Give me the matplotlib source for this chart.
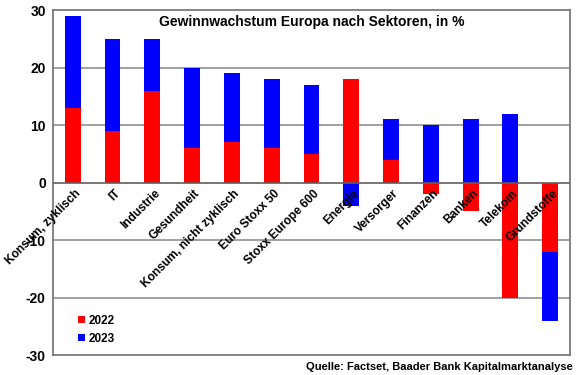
import numpy as np
import matplotlib.pyplot as plt

plt.rcParams['font.family'] = ['Liberation Sans', 'DejaVu Sans']
plt.rcParams['axes.unicode_minus'] = False

sektoren = ["Konsum, zyklisch", "IT", "Industrie", "Gesundheit",
            "Konsum, nicht zyklisch", "Euro Stoxx 50", "Stoxx Europe 600",
            "Energie", "Versorger", "Finanzen", "Banken", "Telekom", "Grundstoffe"]
w2022 = [13, 9, 16, 6, 7, 6, 5, 18, 4, -2, -5, -20, -12]
w2023 = [16, 16, 9, 14, 12, 12, 12, -4, 7, 10, 11, 12, -12]

r = np.array(w2022, dtype=float)
b = np.array(w2023, dtype=float)
# blau auf rot stapeln, wenn gleiches Vorzeichen
bottom = np.where(np.sign(r) == np.sign(b), r, 0)

fig = plt.figure(figsize=(5.8, 3.75), dpi=100)
ax = fig.add_axes([0.091, 0.053, 0.892, 0.92])

x = np.arange(len(sektoren))
ax.bar(x, r, width=0.4, color="#ff0000", label="2022", zorder=2)
ax.bar(x, b, bottom=bottom, width=0.4, color="#0000ff", label="2023", zorder=2)

ax.set_xlim(-0.5, len(sektoren) - 0.5)
ax.set_ylim(-30, 30)
ax.set_yticks(range(-30, 31, 10))
for lab in ax.get_yticklabels():
    lab.set_fontweight("bold")
    lab.set_fontsize(10)
ax.tick_params(axis="y", length=0, pad=5)
ax.set_xticks([])

for y in [-20, -10, 10, 20]:
    ax.axhline(y, color="#909090", lw=1.2, zorder=1)
ax.axhline(0, color="#606060", lw=1.2, zorder=3)

for s in ax.spines.values():
    s.set_color("#707070")
    s.set_linewidth(1.2)

for i, name in enumerate(sektoren):
    ax.text(i + 0.15, -1.6, name, rotation=45, rotation_mode="anchor",
            ha="right", va="center", fontsize=8.6, fontweight="bold", zorder=5)

ax.text(0.5, 0.965, "Gewinnwachstum Europa nach Sektoren, in %",
        transform=ax.transAxes, ha="center", va="center",
        fontsize=10, fontweight="bold")

leg = ax.legend(loc="lower left", bbox_to_anchor=(0.028, 0.0), frameon=False,
                handlelength=0.6, handleheight=0.6, handletextpad=0.3,
                labelspacing=0.5, prop={"weight": "bold", "size": 8.5})

fig.text(0.988, 0.022, "Quelle: Factset, Baader Bank Kapitalmarktanalyse",
         ha="right", va="center", fontsize=8, fontweight="bold")

fig.savefig("out.png", dpi=100)
